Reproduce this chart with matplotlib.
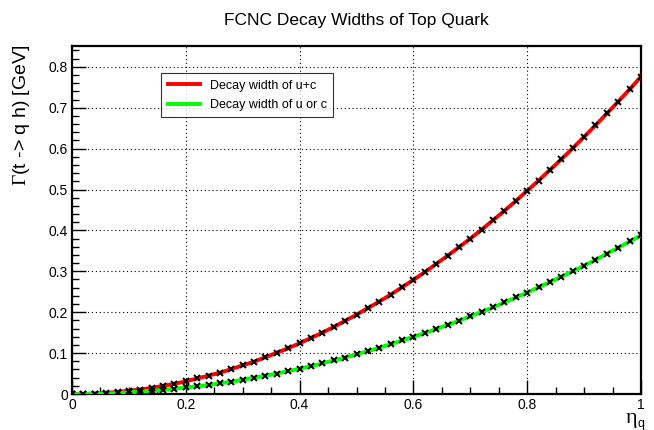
import numpy as np
import matplotlib
matplotlib.use('Agg')
import matplotlib.pyplot as plt
from matplotlib.ticker import MultipleLocator

plt.rcParams['font.family'] = ['Liberation Sans', 'DejaVu Sans']
plt.rcParams['mathtext.fontset'] = 'custom'
plt.rcParams['mathtext.rm'] = 'Liberation Serif'
plt.rcParams['mathtext.sf'] = 'Liberation Sans'
plt.rcParams['mathtext.it'] = 'Liberation Sans'

eta = [0.00, 0.02, 0.04, 0.06, 0.08, 0.10, 0.12, 0.14, 0.16, 0.18,
       0.20, 0.22, 0.24, 0.26, 0.28, 0.30, 0.32, 0.34, 0.36, 0.38,
       0.40, 0.42, 0.44, 0.46, 0.48, 0.50, 0.52, 0.54, 0.56, 0.58,
       0.60, 0.62, 0.64, 0.66, 0.68, 0.70, 0.72, 0.74, 0.76, 0.78,
       0.80, 0.82, 0.84, 0.86, 0.88, 0.90, 0.92, 0.94, 0.96, 0.98, 1.00]

# decay width of u+c [GeV]
width_uc = [0.000, 0.000, 0.001, 0.003, 0.005, 0.008, 0.011, 0.015, 0.020, 0.025,
            0.031, 0.038, 0.045, 0.052, 0.061, 0.070, 0.079, 0.090, 0.101, 0.112,
            0.124, 0.137, 0.150, 0.164, 0.179, 0.194, 0.210, 0.226, 0.243, 0.261,
            0.279, 0.298, 0.318, 0.338, 0.359, 0.380, 0.402, 0.425, 0.448, 0.472,
            0.497, 0.522, 0.548, 0.574, 0.601, 0.629, 0.657, 0.686, 0.715, 0.745, 0.776]

# decay width of u or c [GeV]
width_u = [0.000, 0.000, 0.001, 0.001, 0.002, 0.004, 0.006, 0.008, 0.010, 0.013,
           0.016, 0.019, 0.022, 0.026, 0.030, 0.035, 0.040, 0.045, 0.050, 0.056,
           0.062, 0.068, 0.075, 0.082, 0.089, 0.097, 0.105, 0.113, 0.122, 0.131,
           0.140, 0.149, 0.159, 0.169, 0.179, 0.190, 0.201, 0.212, 0.224, 0.236,
           0.248, 0.261, 0.274, 0.287, 0.300, 0.314, 0.328, 0.343, 0.358, 0.373, 0.388]

fig = plt.figure(figsize=(6.54, 4.30), dpi=100)
ax = fig.add_axes([72 / 654, 1 - 394 / 430, (641 - 72) / 654, (394 - 46) / 430])

ax.plot(eta, width_uc, color='#ff0000', lw=2.8, label='Decay width of u+c', zorder=3)
ax.plot(eta, width_u, color='#00ff00', lw=2.8, label='Decay width of u or c', zorder=3)
ax.plot(eta, width_uc, ls='none', marker='x', ms=4, mew=1.4, color='black', zorder=4)
ax.plot(eta, width_u, ls='none', marker='x', ms=4, mew=1.4, color='black', zorder=4)

ax.set_xlim(0, 1)
ax.set_ylim(0, 0.851)
ax.xaxis.set_minor_locator(MultipleLocator(0.05))
ax.yaxis.set_minor_locator(MultipleLocator(0.02))
ax.set_xticks([0, 0.2, 0.4, 0.6, 0.8, 1.0])
ax.set_xticklabels(['0', '0.2', '0.4', '0.6', '0.8', '1'])
ax.set_yticks([0, 0.1, 0.2, 0.3, 0.4, 0.5, 0.6, 0.7, 0.8])
ax.set_yticklabels(['0', '0.1', '0.2', '0.3', '0.4', '0.5', '0.6', '0.7', '0.8'])
ax.tick_params(which='both', direction='in', labelsize=10, width=1, pad=3)
ax.tick_params(which='major', length=10)
ax.tick_params(which='minor', length=5)
ax.grid(True, which='major', ls=(0, (1, 2.5)), color='black', lw=0.8)
for s in ax.spines.values():
    s.set_linewidth(1.6)

fig.text((72 + 641) / 2 / 654, 1 - 20 / 430, 'FCNC Decay Widths of Top Quark',
         ha='center', va='center', fontsize=12.5)
fig.text(22 / 654, 1 - 45 / 430, r'$\mathrm{\Gamma}$(t -> q h) [GeV]', rotation=90,
         ha='center', va='top', fontsize=14)
fig.text(631 / 654, 1 - 419 / 430, 'η', family='Liberation Serif',
         ha='center', va='center', fontsize=16)
fig.text(641 / 654, 1 - 424 / 430, 'q', ha='center', va='center', fontsize=9)

leg = ax.legend(loc='upper left', bbox_to_anchor=(83 / 569, 1 - 21 / 348),
                fontsize=9, frameon=True, fancybox=False, edgecolor='black',
                handlelength=2.6, borderpad=0.5, labelspacing=0.6)
leg.get_frame().set_linewidth(0.8)

fig.savefig('out.png', dpi=100)
